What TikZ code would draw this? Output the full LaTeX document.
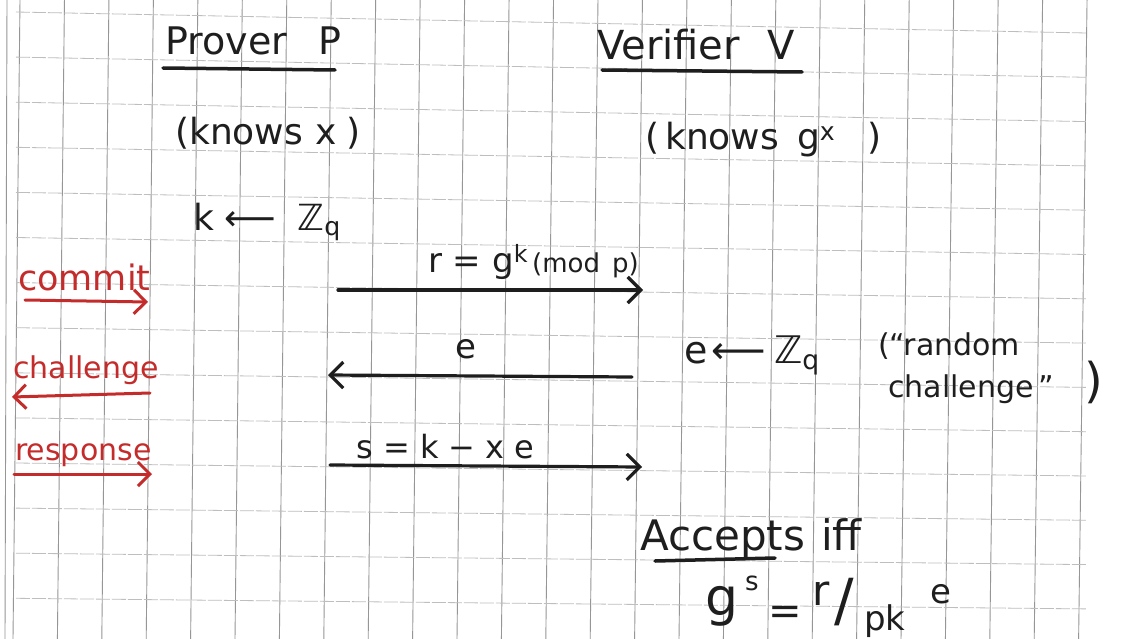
\documentclass[tikz,border=0pt]{standalone}
\usepackage{fontspec}
\setmainfont{DejaVu Sans}
\usetikzlibrary{arrows.meta}
\definecolor{ink}{RGB}{30,30,30}
\definecolor{redink}{RGB}{196,44,44}
\definecolor{gridv}{RGB}{150,150,150}
\definecolor{gridh}{RGB}{190,190,190}
\begin{document}
\begin{tikzpicture}[x=1pt,y=-1pt,
  hand/.style={font=\fontsize{34}{38}\selectfont, text=ink, inner sep=0pt, anchor=base west},
  redhand/.style={font=\fontsize{30}{34}\selectfont, text=redink, inner sep=0pt, anchor=base west},
  msg/.style={draw=ink, line width=3.2pt, line cap=round, -{Straight Barb[length=13pt,width=26pt]}},
  redmsg/.style={draw=redink, line width=3pt, line cap=round, -{Straight Barb[length=12pt,width=24pt]}},
  uline/.style={draw=ink, line width=3.5pt, line cap=round},
  vline/.style={draw=gridv, line width=0.9pt},
  hline/.style={draw=gridh, line width=0.8pt, dash pattern=on 14pt off 2pt}]
\useasboundingbox[fill=white] (0,0) rectangle (1123,639);
% grid paper
\draw[vline] (7,0) -- (5,639);
\foreach \i in {0,...,24} \draw[vline] ({20+44.46*\i},0) -- ({13+44.4*\i},639);
\foreach \j in {0,...,13} \draw[hline] (16,{12+45.1*\j}) -- (1087,{33+44.3*\j});

% headings
\node[hand, font=\fontsize{38}{42}\selectfont] (prover) at (165,55) {Prover\hspace{32pt}P};
\draw[uline] (163,68) -- (335,70);
\node[hand, font=\fontsize{40}{44}\selectfont] (verifier) at (597,60) {Verifier\hspace{28pt}V};
\draw[uline] (602,70) -- (802,72);

\node[hand, font=\fontsize{36}{40}\selectfont] (pknows) at (175,145) {(knows\hspace{12pt}x\hspace{10pt})};
\node[hand, font=\fontsize{36}{40}\selectfont] (vknows) at (645,150) {(\,knows\hspace{18pt}g\textsuperscript{x}\hspace{32pt})};

\node[hand, font=\fontsize{36}{40}\selectfont] (ksample) at (193,230) {k\hspace{10pt}⟵\hspace{22pt}ℤ\textsubscript{q}};

% messages
\node[hand, font=\fontsize{34}{38}\selectfont] (rlabel) at (428,272) {r = g\textsuperscript{k}\hspace{4pt}{\fontsize{26}{28}\selectfont(mod\hspace{12pt}p)}};
\coordinate (m1s) at (338,290);
\coordinate (m1e) at (643,290);
\draw[msg] (m1s) -- (m1e);

\node[hand] (elabel) at (455,358) {e};
\coordinate (m2s) at (632,377);
\coordinate (m2e) at (328,375);
\draw[msg] (m2s) -- (m2e);

\node[hand, font=\fontsize{32}{36}\selectfont] (slabel) at (356,458) {s = k − x e};
\coordinate (m3s) at (330,465);
\coordinate (m3e) at (642,467);
\draw[msg] (m3s) -- (m3e);

% verifier side
\node[hand, font=\fontsize{38}{42}\selectfont] (esample) at (684,363) {e\hspace{4pt}⟵\hspace{8pt}ℤ\textsubscript{q}};
\node[hand, font=\fontsize{30}{34}\selectfont] (rand1) at (878,355) {(“random};
\node[hand, font=\fontsize{30}{34}\selectfont] (rand2) at (888,397) {challenge\,”\hspace{30pt}{\fontsize{48}{48}\selectfont)}};

\node[hand, font=\fontsize{42}{46}\selectfont] (accepts) at (640,550) {Accepts\hspace{16pt}iff};
\draw[uline] (655,561) -- (775,558);

% acceptance check g^s = r / pk^e
\node[hand, font=\fontsize{52}{56}\selectfont] (cg) at (705,615) {g};
\node[hand, font=\fontsize{26}{28}\selectfont] (cs) at (745,590) {s};
\node[hand, font=\fontsize{40}{44}\selectfont] (ceq) at (768,624) {=};
\node[hand, font=\fontsize{42}{46}\selectfont] (cr) at (812,605) {r};
\node[hand, font=\fontsize{58}{62}\selectfont] (cslash) at (834,620) {/};
\node[hand, font=\fontsize{34}{38}\selectfont] (cpk) at (864,630) {pk};
\node[hand, font=\fontsize{34}{38}\selectfont] (ce) at (930,603) {e};

% red annotations
\node[redhand, font=\fontsize{35}{38}\selectfont] (commit) at (18,290) {commit};
\coordinate (c1s) at (25,300);
\coordinate (c1e) at (148,302);
\draw[redmsg] (c1s) -- (c1e);

\node[redhand, font=\fontsize{30}{34}\selectfont] (challenge) at (13,378) {challenge};
\coordinate (c2s) at (150,393);
\coordinate (c2e) at (12,397);
\draw[redmsg] (c2s) -- (c2e);

\node[redhand] (response) at (15,460) {response};
\coordinate (c3s) at (14,474);
\coordinate (c3e) at (152,474);
\draw[redmsg] (c3s) -- (c3e);
\end{tikzpicture}
\end{document}
